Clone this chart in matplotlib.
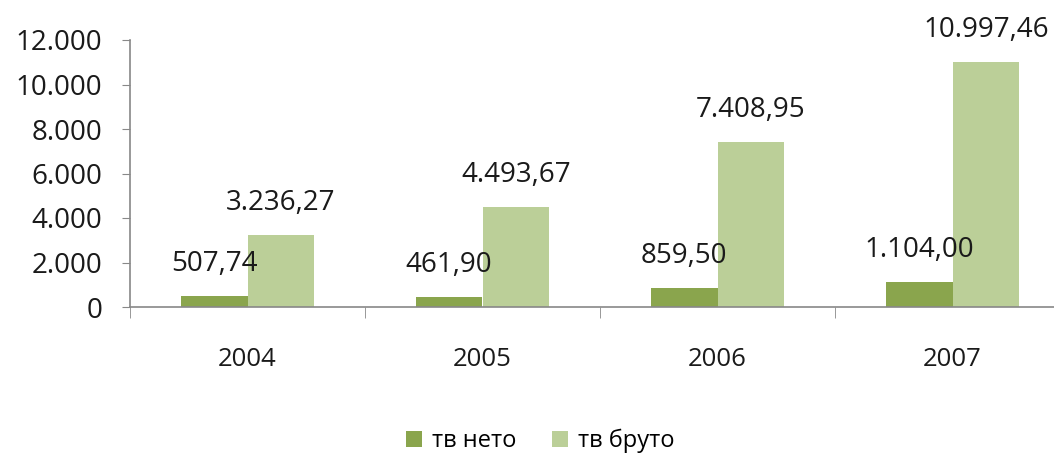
import numpy as np
import matplotlib.pyplot as plt
from matplotlib.ticker import FuncFormatter

years = ["2004", "2005", "2006", "2007"]
neto = [507.74, 461.90, 859.50, 1104.00]
bruto = [3236.27, 4493.67, 7408.95, 10997.46]
series_names = ["тв нето", "тв бруто"]


def bg_num(v, decimals=2):
    s = f"{v:,.{decimals}f}"
    return s.replace(",", "X").replace(".", ",").replace("X", ".")


plt.rcParams["font.family"] = ["Open Sans", "DejaVu Sans"]
fig = plt.figure(figsize=(10.54, 4.57), dpi=100)
ax = fig.add_axes([130 / 1054, 150 / 457, 940 / 1054, 267 / 457])

x = np.arange(len(years))
w = 0.285
dark = "#8AA54D"
light = "#BBCF98"
b1 = ax.bar(x - w / 2, neto, w, color=dark, label=series_names[0])
b2 = ax.bar(x + w / 2, bruto, w, color=light, label=series_names[1])

for bars, vals in ((b1, neto), (b2, bruto)):
    for r, v in zip(bars, vals):
        ax.annotate(bg_num(v), (r.get_x() + r.get_width() / 2, v),
                    xytext=(0, 23), textcoords="offset points",
                    ha="center", va="center", fontsize=20, color="#1a1a1a")

ax.set_xlim(-0.5, len(years) - 0.5)
ax.set_ylim(0, 12000)
ax.set_yticks(range(0, 12001, 2000))
ax.yaxis.set_major_formatter(FuncFormatter(lambda v, p: bg_num(v, 0)))
ax.set_xticks(x)
ax.set_xticklabels(years)
ax.set_xticks(np.arange(len(years) + 1) - 0.5, minor=True)

for s in ("top", "right"):
    ax.spines[s].set_visible(False)
for s in ("left", "bottom"):
    ax.spines[s].set_color("#888888")
    ax.spines[s].set_linewidth(1.2)

ax.tick_params(axis="y", length=6, color="#888888", labelsize=20, pad=14, labelcolor="#1a1a1a")
ax.tick_params(axis="x", which="major", length=0, labelsize=18.5, pad=29, labelcolor="#1a1a1a")
ax.tick_params(axis="x", which="minor", length=8, color="#888888")

fig.legend(handles=[b1, b2], loc="center", bbox_to_anchor=(540 / 1054, 1 - 441 / 457),
           ncol=2, frameon=False, fontsize=17, handlelength=0.7, handleheight=0.7,
           handletextpad=0.4, columnspacing=1.5)

fig.savefig("out.png", dpi=100)
